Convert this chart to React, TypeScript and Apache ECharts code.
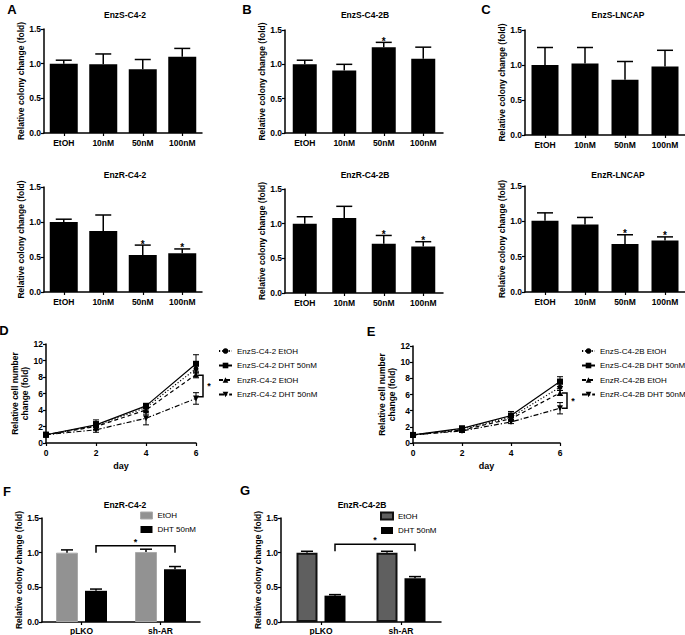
import React, { useEffect, useRef } from "react";
import * as echarts from "echarts";

const FONT = '"Liberation Sans", Arial, Helvetica, sans-serif';

// ---- Panels A-C, row 1 (EnzS) and row 2 (EnzR): relative colony change by dose ----
const doseCategories = ["EtOH", "10nM", "50nM", "100nM"];

const enzSC42Values = [1.0, 0.99, 0.92, 1.1];
const enzSC42Sem = [0.05, 0.15, 0.14, 0.12];
const enzSC42Sig = [0, 0, 0, 0];

const enzSC42BValues = [1.0, 0.91, 1.25, 1.08];
const enzSC42BSem = [0.06, 0.09, 0.07, 0.17];
const enzSC42BSig = [0, 0, 1, 0];

const enzSLncapValues = [1.0, 1.02, 0.79, 0.98];
const enzSLncapSem = [0.25, 0.23, 0.26, 0.23];
const enzSLncapSig = [0, 0, 0, 0];

const enzRC42Values = [1.0, 0.87, 0.53, 0.555];
const enzRC42Sem = [0.04, 0.23, 0.14, 0.06];
const enzRC42Sig = [0, 0, 1, 1];

const enzRC42BValues = [1.0, 1.08, 0.71, 0.67];
const enzRC42BSem = [0.1, 0.17, 0.12, 0.07];
const enzRC42BSig = [0, 0, 1, 1];

const enzRLncapValues = [1.01, 0.955, 0.68, 0.73];
const enzRLncapSem = [0.11, 0.1, 0.13, 0.05];
const enzRLncapSig = [0, 0, 1, 1];

// ---- Panels D, E: relative cell number over days ----
const days = [0, 2, 4, 6];

const dNames = ["EnzS-C4-2 EtOH", "EnzS-C4-2 DHT 50nM", "EnzR-C4-2 EtOH", "EnzR-C4-2 DHT 50nM"];
const dEnzSEtoh = [1.0, 2.1, 4.3, 9.0];
const dEnzSEtohSem = [0.1, 0.5, 0.3, 0.5];
const dEnzSDht = [1.0, 2.2, 4.5, 9.6];
const dEnzSDhtSem = [0.1, 0.6, 0.3, 1.1];
const dEnzREtoh = [1.0, 2.0, 4.0, 8.3];
const dEnzREtohSem = [0.1, 0.4, 0.5, 0.4];
const dEnzRDht = [1.0, 1.6, 3.0, 5.4];
const dEnzRDhtSem = [0.1, 0.3, 0.8, 0.7];
const dBracket = [6, 8.2, 5.6];

const eNames = ["EnzS-C4-2B EtOH", "EnzS-C4-2B DHT 50nM", "EnzR-C4-2B EtOH", "EnzR-C4-2B DHT 50nM"];
const eEnzSEtoh = [1.0, 1.7, 3.2, 6.9];
const eEnzSEtohSem = [0.1, 0.2, 0.3, 0.4];
const eEnzSDht = [1.0, 1.8, 3.4, 7.6];
const eEnzSDhtSem = [0.1, 0.3, 0.5, 0.6];
const eEnzREtoh = [1.0, 1.6, 3.0, 6.2];
const eEnzREtohSem = [0.1, 0.2, 0.3, 0.3];
const eEnzRDht = [1.0, 1.5, 2.6, 4.3];
const eEnzRDhtSem = [0.1, 0.2, 0.2, 0.7];
const eBracket = [6, 6.2, 4.3];

// ---- Panels F, G: shRNA ----
const shCategories = ["pLKO", "sh-AR"];
const treatNames = ["EtOH", "DHT 50nM"];

const fEtoh = [1.0, 1.01];
const fEtohSem = [0.04, 0.04];
const fDht = [0.45, 0.76];
const fDhtSem = [0.025, 0.04];
const fBracketLevel = 1.1;

const gEtoh = [1.0, 1.0];
const gEtohSem = [0.02, 0.02];
const gDht = [0.38, 0.63];
const gDhtSem = [0.015, 0.025];
const gBracketLevel = 1.12;

// ---------------------------------------------------------------
const black = "#000";

function buildOption() {
  const grids: any[] = [];
  const xAxes: any[] = [];
  const yAxes: any[] = [];
  const series: any[] = [];
  const legends: any[] = [];
  const graphics: any[] = [];

  const tickLabel = { color: black, fontFamily: FONT, fontWeight: "bold", fontSize: 8.5 };
  const axisLine = { show: true, lineStyle: { color: black, width: 1.5 } };
  const axisTick = { show: true, length: 3, lineStyle: { color: black, width: 1.2 } };

  const errUp = (cap: number, offset: number) => (params: any, api: any) => {
    const x = api.value(0);
    const v = api.value(1);
    const e = api.value(2);
    const s = api.value(3);
    const top = api.coord([x, v]);
    const hi = api.coord([x, v + e]);
    const cx = top[0] + offset;
    const children: any[] = [
      { type: "line", shape: { x1: cx, y1: top[1], x2: cx, y2: hi[1] }, style: { stroke: black, lineWidth: 1.5 } },
      { type: "line", shape: { x1: cx - cap, y1: hi[1], x2: cx + cap, y2: hi[1] }, style: { stroke: black, lineWidth: 1.5 } },
    ];
    if (s) {
      children.push({
        type: "text",
        x: cx,
        y: hi[1] - 1,
        style: { text: "*", font: `bold 10px ${FONT}`, align: "center", verticalAlign: "middle", fill: black },
      });
    }
    return { type: "group", children };
  };

  const addBarPanel = (
    g: { left: number; top: number; width: number; height: number; gap: number },
    vals: number[],
    sem: number[],
    sig: number[],
    barWidth: number
  ) => {
    const gi = grids.length;
    grids.push({ left: g.left, top: g.top, width: g.width, height: g.height });
    xAxes.push({
      gridIndex: gi,
      type: "category",
      data: doseCategories,
      axisLine,
      axisTick: { ...axisTick, alignWithLabel: true },
      axisLabel: { ...tickLabel, margin: 5 },
      splitLine: { show: false },
    });
    yAxes.push({
      gridIndex: gi,
      type: "value",
      min: 0,
      max: 1.5,
      interval: 0.5,
      axisLine,
      axisTick,
      splitLine: { show: false },
      axisLabel: { ...tickLabel, margin: 3, formatter: (v: number) => v.toFixed(1) },
      name: "Relative colony change (fold)",
      nameLocation: "middle",
      nameGap: g.gap,
      nameTextStyle: { ...tickLabel },
    });
    series.push({
      type: "bar",
      xAxisIndex: gi,
      yAxisIndex: gi,
      data: vals,
      barWidth,
      itemStyle: { color: black },
      silent: true,
    });
    series.push({
      type: "custom",
      xAxisIndex: gi,
      yAxisIndex: gi,
      data: vals.map((v, i) => [i, v, sem[i], sig[i]]),
      renderItem: errUp(8, 0),
      z: 5,
      silent: true,
    });
  };

  addBarPanel({ left: 44, top: 29, width: 158, height: 104, gap: 18 }, enzSC42Values, enzSC42Sem, enzSC42Sig, 28);
  addBarPanel({ left: 285, top: 30, width: 158, height: 103, gap: 18 }, enzSC42BValues, enzSC42BSem, enzSC42BSig, 24);
  addBarPanel({ left: 525, top: 30, width: 160, height: 105, gap: 18 }, enzSLncapValues, enzSLncapSem, enzSLncapSig, 27);
  addBarPanel({ left: 44, top: 187, width: 158, height: 105, gap: 18 }, enzRC42Values, enzRC42Sem, enzRC42Sig, 28);
  addBarPanel({ left: 285, top: 189, width: 158, height: 104, gap: 18 }, enzRC42BValues, enzRC42BSem, enzRC42BSig, 24);
  addBarPanel({ left: 525, top: 186, width: 160, height: 106, gap: 18 }, enzRLncapValues, enzRLncapSem, enzRLncapSig, 27);

  // ---- line panels ----
  const lineStyles: any[] = [
    { symbol: "circle", symbolSize: 5, symbolRotate: 0, type: [1.2, 2] },
    { symbol: "rect", symbolSize: 6, symbolRotate: 0, type: "solid" },
    { symbol: "triangle", symbolSize: 6, symbolRotate: 0, type: [4, 3] },
    { symbol: "triangle", symbolSize: 6, symbolRotate: 180, type: [5, 2, 1.2, 2] },
  ];

  const addLinePanel = (
    g: { left: number; top: number; width: number; height: number },
    names: string[],
    valsArr: number[][],
    semArr: number[][],
    bracket: number[],
    legendLeft: number,
    legendTop: number
  ) => {
    const gi = grids.length;
    grids.push({ left: g.left, top: g.top, width: g.width, height: g.height });
    xAxes.push({
      gridIndex: gi,
      type: "value",
      min: 0,
      max: 6,
      interval: 2,
      axisLine: { ...axisLine, onZero: false },
      axisTick,
      splitLine: { show: false },
      axisLabel: { ...tickLabel, margin: 5 },
      name: "day",
      nameLocation: "middle",
      nameGap: 18,
      nameTextStyle: { ...tickLabel, fontSize: 9 },
    });
    yAxes.push({
      gridIndex: gi,
      type: "value",
      min: 0,
      max: 12,
      interval: 2,
      axisLine: { ...axisLine, onZero: false },
      axisTick,
      splitLine: { show: false },
      axisLabel: { ...tickLabel, margin: 3 },
      name: "Relative cell number\nchange (fold)",
      nameLocation: "middle",
      nameGap: 11,
      nameTextStyle: { ...tickLabel, lineHeight: 10 },
    });
    names.forEach((name, k) => {
      const st = lineStyles[k];
      series.push({
        type: "line",
        name,
        xAxisIndex: gi,
        yAxisIndex: gi,
        data: days.map((d, i) => [d, valsArr[k][i]]),
        symbol: st.symbol,
        symbolSize: st.symbolSize,
        symbolRotate: st.symbolRotate,
        showAllSymbol: true,
        lineStyle: { color: black, width: 1.2, type: st.type },
        itemStyle: { color: black },
        z: 3,
        silent: true,
      });
      series.push({
        type: "custom",
        name: name + "-sem",
        xAxisIndex: gi,
        yAxisIndex: gi,
        data: days.map((d, i) => [d, valsArr[k][i], semArr[k][i]]),
        renderItem: (params: any, api: any) => {
          const x = api.value(0);
          const v = api.value(1);
          const e = api.value(2);
          const lo = api.coord([x, v - e]);
          const hi = api.coord([x, v + e]);
          const cap = 3;
          return {
            type: "group",
            children: [
              { type: "line", shape: { x1: lo[0], y1: lo[1], x2: hi[0], y2: hi[1] }, style: { stroke: black, lineWidth: 1 } },
              { type: "line", shape: { x1: hi[0] - cap, y1: hi[1], x2: hi[0] + cap, y2: hi[1] }, style: { stroke: black, lineWidth: 1 } },
              { type: "line", shape: { x1: lo[0] - cap, y1: lo[1], x2: lo[0] + cap, y2: lo[1] }, style: { stroke: black, lineWidth: 1 } },
            ],
          };
        },
        z: 4,
        silent: true,
      });
    });
    series.push({
      type: "custom",
      name: "bracket-" + gi,
      xAxisIndex: gi,
      yAxisIndex: gi,
      data: [bracket],
      renderItem: (params: any, api: any) => {
        const x = api.value(0);
        const a = api.coord([x, api.value(1)]);
        const b = api.coord([x, api.value(2)]);
        const bx = a[0] + 7;
        return {
          type: "group",
          children: [
            {
              type: "polyline",
              shape: { points: [[bx - 5, a[1]], [bx, a[1]], [bx, b[1]], [bx - 5, b[1]]] },
              style: { stroke: black, lineWidth: 1.5, fill: "none" },
            },
            {
              type: "text",
              x: bx + 6,
              y: (a[1] + b[1]) / 2,
              style: { text: "*", font: `bold 9px ${FONT}`, align: "center", verticalAlign: "middle", fill: black },
            },
          ],
        };
      },
      z: 5,
      silent: true,
    });
    legends.push({
      data: names,
      orient: "vertical",
      left: legendLeft,
      top: legendTop,
      padding: 0,
      itemWidth: 13,
      itemHeight: 7,
      itemGap: 6.5,
      selectedMode: false,
      textStyle: { color: black, fontFamily: FONT, fontSize: 8 },
    });
  };

  addLinePanel(
    { left: 46, top: 344, width: 150, height: 99 },
    dNames,
    [dEnzSEtoh, dEnzSDht, dEnzREtoh, dEnzRDht],
    [dEnzSEtohSem, dEnzSDhtSem, dEnzREtohSem, dEnzRDhtSem],
    dBracket,
    218,
    347
  );
  addLinePanel(
    { left: 413, top: 346, width: 147, height: 97 },
    eNames,
    [eEnzSEtoh, eEnzSDht, eEnzREtoh, eEnzRDht],
    [eEnzSEtohSem, eEnzSDhtSem, eEnzREtohSem, eEnzRDhtSem],
    eBracket,
    581,
    347
  );

  // ---- grouped bar panels ----
  const addGroupPanel = (
    g: { left: number; top: number; width: number; height: number; gap: number },
    etoh: number[],
    etohSem: number[],
    dht: number[],
    dhtSem: number[],
    level: number,
    etohStyle: any,
    barWidth: number,
    legendLeft: number
  ) => {
    const gi = grids.length;
    const barGapPx = 7;
    const off = (barWidth + barGapPx) / 2;
    grids.push({ left: g.left, top: g.top, width: g.width, height: g.height });
    xAxes.push({
      gridIndex: gi,
      type: "category",
      data: shCategories,
      axisLine,
      axisTick: { ...axisTick, alignWithLabel: true },
      axisLabel: { ...tickLabel, margin: 4 },
      splitLine: { show: false },
    });
    yAxes.push({
      gridIndex: gi,
      type: "value",
      min: 0,
      max: 1.5,
      interval: 0.5,
      axisLine,
      axisTick,
      splitLine: { show: false },
      axisLabel: { ...tickLabel, margin: 3, formatter: (v: number) => v.toFixed(1) },
      name: "Relative colony change (fold)",
      nameLocation: "middle",
      nameGap: g.gap,
      nameTextStyle: { ...tickLabel },
    });
    series.push({
      type: "bar",
      name: treatNames[0],
      xAxisIndex: gi,
      yAxisIndex: gi,
      data: etoh,
      barWidth,
      barGap: `${(barGapPx / barWidth) * 100}%`,
      itemStyle: etohStyle,
      silent: true,
    });
    series.push({
      type: "bar",
      name: treatNames[1],
      xAxisIndex: gi,
      yAxisIndex: gi,
      data: dht,
      barWidth,
      barGap: `${(barGapPx / barWidth) * 100}%`,
      itemStyle: { color: black },
      silent: true,
    });
    series.push({
      type: "custom",
      xAxisIndex: gi,
      yAxisIndex: gi,
      data: etoh.map((v, i) => [i, v, etohSem[i], 0]),
      renderItem: errUp(6, -off),
      z: 5,
      silent: true,
    });
    series.push({
      type: "custom",
      xAxisIndex: gi,
      yAxisIndex: gi,
      data: dht.map((v, i) => [i, v, dhtSem[i], 0]),
      renderItem: errUp(6, off),
      z: 5,
      silent: true,
    });
    series.push({
      type: "custom",
      xAxisIndex: gi,
      yAxisIndex: gi,
      data: [[0, 1, level]],
      renderItem: (params: any, api: any) => {
        const a = api.coord([api.value(0), api.value(2)]);
        const b = api.coord([api.value(1), api.value(2)]);
        const x1 = a[0] + off;
        const x2 = b[0] + off;
        const y = a[1];
        return {
          type: "group",
          children: [
            {
              type: "polyline",
              shape: { points: [[x1, y + 7], [x1, y], [x2, y], [x2, y + 7]] },
              style: { stroke: black, lineWidth: 1.5, fill: "none" },
            },
            {
              type: "text",
              x: (x1 + x2) / 2,
              y: y - 4,
              style: { text: "*", font: `bold 9px ${FONT}`, align: "center", verticalAlign: "middle", fill: black },
            },
          ],
        };
      },
      z: 5,
      silent: true,
    });
    legends.push({
      data: [
        { name: treatNames[0], itemStyle: etohStyle },
        { name: treatNames[1], itemStyle: { color: black } },
      ],
      orient: "vertical",
      left: legendLeft,
      top: 511.5,
      padding: 0,
      icon: "rect",
      itemWidth: 12,
      itemHeight: 7,
      itemGap: 6,
      selectedMode: false,
      textStyle: { color: black, fontFamily: FONT, fontSize: 8 },
    });
  };

  addGroupPanel(
    { left: 42, top: 518, width: 158, height: 104, gap: 15 },
    fEtoh,
    fEtohSem,
    fDht,
    fDhtSem,
    fBracketLevel,
    { color: "#929292", borderColor: "#aaaaaa", borderWidth: 1 },
    22,
    140
  );
  addGroupPanel(
    { left: 281, top: 518, width: 160, height: 104, gap: 14 },
    gEtoh,
    gEtohSem,
    gDht,
    gDhtSem,
    gBracketLevel,
    { color: "#5f5f5f", borderColor: "#111111", borderWidth: 2 },
    21,
    380
  );

  // ---- titles and panel letters ----
  const titles: [string, number, number][] = [
    ["EnzS-C4-2", 125, 15],
    ["EnzS-C4-2B", 365, 15],
    ["EnzS-LNCAP", 618, 15],
    ["EnzR-C4-2", 125, 175],
    ["EnzR-C4-2B", 365, 175],
    ["EnzR-LNCAP", 618, 175],
    ["EnzR-C4-2", 125, 505],
    ["EnzR-C4-2B", 362, 505],
  ];
  titles.forEach(([t, x, y]) =>
    graphics.push({
      type: "text",
      x,
      y,
      style: { text: t, font: `bold 8.5px ${FONT}`, align: "center", verticalAlign: "middle", fill: black },
    })
  );
  const letters: [string, number, number][] = [
    ["A", 12, 9],
    ["B", 247, 9],
    ["C", 486, 9],
    ["D", 4, 330],
    ["E", 371, 331],
    ["F", 7, 491],
    ["G", 245, 490],
  ];
  letters.forEach(([t, x, y]) =>
    graphics.push({
      type: "text",
      x,
      y,
      style: { text: t, font: `bold 13px ${FONT}`, align: "center", verticalAlign: "middle", fill: black },
    })
  );

  return {
    animation: false,
    backgroundColor: "#fff",
    textStyle: { fontFamily: FONT },
    grid: grids,
    xAxis: xAxes,
    yAxis: yAxes,
    legend: legends,
    series,
    graphic: graphics,
  };
}

export default function App() {
  const ref = useRef<HTMLDivElement>(null);
  useEffect(() => {
    if (!ref.current) return;
    const chart = echarts.init(ref.current, undefined, { renderer: "svg" });
    chart.setOption(buildOption() as any);
    return () => chart.dispose();
  }, []);
  return (
    <div
      ref={ref}
      style={{ position: "fixed", left: 0, top: 0, width: 685, height: 635, background: "#fff" }}
    />
  );
}
